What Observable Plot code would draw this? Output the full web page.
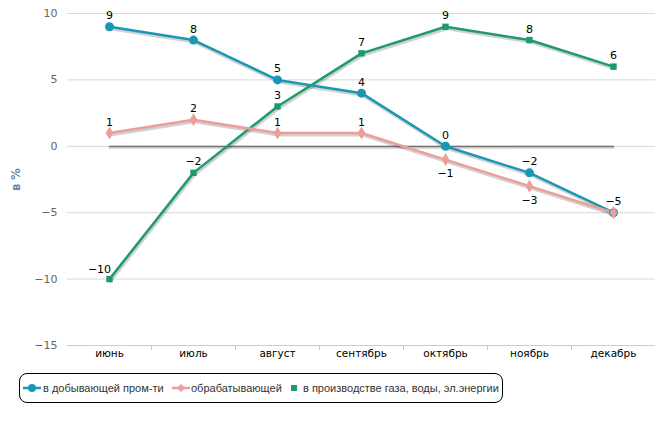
<!DOCTYPE html>
<html><head><meta charset="utf-8">
<script src="https://cdn.jsdelivr.net/npm/d3@7"></script>
<script src="https://cdn.jsdelivr.net/npm/@observablehq/plot@0.6"></script>
<style>
body{margin:0;background:#fff;font-family:"DejaVu Sans",Verdana,sans-serif;}
#wrap{position:relative;width:661px;height:436px;}
#legend{position:absolute;left:19px;top:373px;width:482px;height:28px;border:1px solid #000;border-radius:8px;font-family:"Liberation Sans",Arial,sans-serif;font-size:11px;color:#333;white-space:nowrap;}
#legend .ic{position:absolute;top:9px;}
#legend .tx{position:absolute;top:7px;line-height:14px;}
</style></head>
<body><div id="wrap"><div id="chart"></div><div id="legend"></div></div>
<script>
const categories = ["июнь","июль","август","сентябрь","октябрь","ноябрь","декабрь"];
const mining = [9, 8, 5, 4, 0, -2, -5];
const manufacturing = [1, 2, 1, 1, -1, -3, -5];
const utilities = [-10, -2, 3, 7, 9, 8, 6];
const yTicks = [-15, -10, -5, 0, 5, 10];
const seriesNames = ["в добывающей пром-ти", "обрабатывающей", "в производстве газа, воды, эл.энергии"];
const colors = ["#1898b2", "#eb9f98", "#1f9a6c"];

const rows = (vals, s) => vals.map((v, i) => ({cat: categories[i], v, s, i}));
const dM = rows(mining, 0), dP = rows(manufacturing, 1), dG = rows(utilities, 2);

const fmt = v => v < 0 ? "\u2212" + Math.abs(v) : String(v);
// label placement
const lblAbove = [
  ...dM,
  ...dP.filter(d => d.v >= 0),
  ...dG.filter(d => d.i > 0)
];
const lblBelow = dP.filter(d => d.v < 0 && d.i < categories.length - 1);
const lblLeft = dG.filter(d => d.i === 0);

const shadow = (data) => Plot.line(data, {x: "cat", y: "v", stroke: "#000", strokeOpacity: 0.18, strokeWidth: 3, dx: 1, dy: 2});
const line = (data, c) => Plot.line(data, {x: "cat", y: "v", stroke: c, strokeWidth: 2.5});
const font = "'DejaVu Sans', Verdana, sans-serif";
const zero = [categories[0], categories[categories.length - 1]].map(c => ({cat: c, v: 0}));

const chart = Plot.plot({
  width: 661, height: 365,
  marginLeft: 67, marginRight: 6, marginTop: 13, marginBottom: 20,
  style: {fontFamily: font, fontSize: "11px", background: "#fff"},
  x: {type: "point", domain: categories, padding: 0.5, label: null},
  y: {domain: [-15, 10], ticks: yTicks, label: null},
  marks: [
    Plot.gridY(yTicks, {stroke: "#d8d8d8", strokeOpacity: 1, strokeWidth: 1}),
    Plot.ruleY([-15], {stroke: "#c0d0e0", strokeWidth: 1}),
    Plot.ruleX(categories.slice(0, -1), {x: d => d, dx: 42, y1: -15, y2: -15, insetTop: 5, stroke: "#c0d0e0"}),
    Plot.axisY(yTicks, {tickSize: 0, tickPadding: 10, fill: "#666", fontSize: 11, label: null}),
    Plot.axisX(categories, {tickSize: 0, tickPadding: 4, fill: "#000", fontSize: 10.5, label: null}),
    Plot.text(["в %"], {frameAnchor: "left", textAnchor: "middle", dx: -51, rotate: -90, fill: "#6a86a8", fontWeight: "bold", fontSize: 11.5}),
    Plot.lineY(zero, {x: "cat", y: "v", stroke: "#c8c8c8", strokeWidth: 2, dy: 1.5}),
    Plot.lineY(zero, {x: "cat", y: "v", stroke: "#6e6e6e", strokeWidth: 1.2}),
    shadow(dG), shadow(dM), shadow(dP),
    line(dG, colors[2]),
    line(dM, colors[0]),
    line(dP, colors[1]),
    Plot.dot(dG, {x: "cat", y: "v", symbol: "square", r: 3.6, fill: colors[2]}),
    Plot.dot(dM, {x: "cat", y: "v", symbol: "circle", r: 4.5, fill: colors[0]}),
    Plot.dot(dP, {x: "cat", y: "v", symbol: "diamond", r: 4, fill: colors[1]}),
    Plot.text(lblAbove, {x: "cat", y: "v", text: d => fmt(d.v), dy: -11, fill: "#000", fontSize: 11}),
    Plot.text(lblBelow, {x: "cat", y: "v", text: d => fmt(d.v), dy: 14, fill: "#000", fontSize: 11}),
    Plot.text(lblLeft, {x: "cat", y: "v", text: d => fmt(d.v), dx: -10, dy: -10, fill: "#000", fontSize: 11})
  ]
});
document.getElementById("chart").appendChild(chart);

// legend
const leg = document.getElementById("legend");
const icons = [
  `<svg width="20" height="10"><line x1="1" y1="5" x2="19" y2="5" stroke="${colors[0]}" stroke-width="2.5"/><circle cx="10" cy="5" r="4" fill="${colors[0]}"/></svg>`,
  `<svg width="20" height="10"><line x1="1" y1="5" x2="19" y2="5" stroke="${colors[1]}" stroke-width="2.5"/><path d="M10 1L14 5L10 9L6 5Z" fill="${colors[1]}"/></svg>`,
  `<svg width="20" height="10"><rect x="7" y="2" width="6" height="6" fill="${colors[2]}"/></svg>`
];
const iconX = [2, 151, 264];
const textX = [23, 171, 283];
seriesNames.forEach((n, i) => {
  const ic = document.createElement("span");
  ic.className = "ic"; ic.style.left = iconX[i] + "px"; ic.innerHTML = icons[i];
  const tx = document.createElement("span");
  tx.className = "tx"; tx.style.left = textX[i] + "px"; tx.textContent = n;
  leg.appendChild(ic); leg.appendChild(tx);
});
</script></body></html>
